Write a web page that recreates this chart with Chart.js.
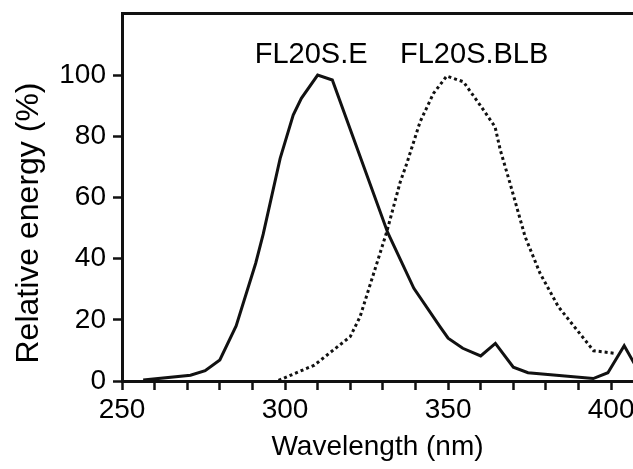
<!DOCTYPE html>
<html>
<head>
<meta charset="utf-8">
<script src="https://cdn.jsdelivr.net/npm/chart.js@4.4.0/dist/chart.umd.min.js"></script>
<style>
  html, body { margin: 0; padding: 0; background: #fff; overflow: hidden; }
</style>
</head>
<body>
<canvas id="spectrumChart" width="633" height="469"></canvas>
<script>
// Spectra: wavelength (nm) / relative energy (%)
const eWavelength = [256.5, 271, 275.5, 280, 285, 291, 293.3, 298.5, 302.5, 305, 310, 314.5, 331.5, 339.5, 347.5, 350, 354.5, 360, 364.5, 370, 374.5, 394.5, 399, 404, 409];
const eEnergy     = [0.3, 1.9, 3.4, 6.9, 18, 38.5, 48, 72.8, 86.9, 92.4, 100, 98.4, 48.5, 30.3, 17.8, 14, 10.7, 8.2, 12.3, 4.5, 2.7, 0.8, 2.7, 11.5, 2.2];

const blbWavelength = [298, 309, 320, 323, 331.2, 335.3, 337.3, 341.4, 345.5, 349.6, 354.7, 359.8, 364.4, 366, 369, 373.6, 378.2, 383.8, 389.5, 394.6, 401.5];
const blbEnergy     = [0.2, 5.2, 14.5, 21, 48.8, 65, 71, 84.7, 94, 99.7, 97.8, 90.2, 83.1, 75.5, 64.6, 47.2, 35.2, 24.3, 16.7, 9.9, 9];

// axes
const xTicks = [250, 260, 270, 280, 290, 300, 310, 320, 330, 340, 350, 360, 370, 380, 390, 400];
const xLabels = [250, 300, 350, 400];
const yTicks = [0, 20, 40, 60, 80, 100];

// curve names and where they sit (wavelength, energy)
const seriesNames = ['FL20S.E', 'FL20S.BLB'];
const nameAt = [308, 358];
const nameLevel = 104;

const FONT = '"Liberation Sans", Arial, Helvetica, sans-serif';
const INK = '#111';

function toPoints(xs, ys) {
  return xs.map((v, i) => ({ x: v, y: ys[i] }));
}

// names over the peaks + rotated y title
const textPlugin = {
  id: 'textPlugin',
  afterDraw(chart) {
    const { ctx, scales, chartArea } = chart;
    ctx.save();
    ctx.fillStyle = '#000';
    ctx.font = '29px ' + FONT;
    ctx.textAlign = 'center';
    ctx.textBaseline = 'alphabetic';
    seriesNames.forEach((name, i) => {
      ctx.fillText(name, scales.x.getPixelForValue(nameAt[i]), scales.y.getPixelForValue(nameLevel));
    });
    ctx.translate(29, (chartArea.top + chartArea.bottom) / 2 + 26);
    ctx.rotate(-Math.PI / 2);
    ctx.font = '32px ' + FONT;
    ctx.textBaseline = 'middle';
    ctx.fillText('Relative energy (%)', 0, 0);
    ctx.restore();
  }
};

new Chart(document.getElementById('spectrumChart'), {
  type: 'line',
  data: {
    datasets: [
      {
        label: seriesNames[0],
        data: toPoints(eWavelength, eEnergy),
        borderColor: INK,
        borderWidth: 3,
        pointRadius: 0,
        tension: 0
      },
      {
        label: seriesNames[1],
        data: toPoints(blbWavelength, blbEnergy),
        borderColor: INK,
        borderWidth: 3,
        borderDash: [3, 3],
        pointRadius: 0,
        tension: 0
      }
    ]
  },
  options: {
    responsive: false,
    animation: false,
    layout: { padding: { top: 13, left: 0, right: 0, bottom: 0 } },
    plugins: { legend: { display: false }, tooltip: { enabled: false } },
    scales: {
      x: {
        type: 'linear',
        position: 'bottom',
        min: 250,
        max: 406.7,
        afterBuildTicks: s => { s.ticks = xTicks.map(v => ({ value: v })); },
        afterFit: s => { s.paddingLeft = 0; s.paddingRight = 0; s.height = 88; },
        ticks: {
          autoSkip: false,
          maxRotation: 0,
          padding: 3,
          color: '#000',
          font: { family: FONT, size: 28 },
          callback: v => xLabels.includes(v) ? String(v) : ''
        },
        grid: { drawOnChartArea: false, tickLength: 9, tickWidth: 2.5, tickColor: INK },
        border: { display: true, color: INK, width: 3 },
        title: {
          display: true,
          text: 'Wavelength (nm)',
          color: '#000',
          font: { family: FONT, size: 28 },
          padding: { top: 0, bottom: 5 }
        }
      },
      xTop: {
        type: 'linear',
        position: 'top',
        min: 250,
        max: 406.7,
        afterFit: s => { s.paddingLeft = 0; s.paddingRight = 0; s.height = 0; },
        ticks: { display: false },
        grid: { drawOnChartArea: false, drawTicks: false },
        border: { display: true, color: INK, width: 3 }
      },
      y: {
        min: 0,
        max: 120.3,
        afterBuildTicks: s => { s.ticks = yTicks.map(v => ({ value: v })); },
        afterFit: s => { s.paddingTop = 0; s.paddingBottom = 0; s.width = 122; },
        ticks: {
          padding: 7,
          color: '#000',
          font: { family: FONT, size: 28 }
        },
        grid: { drawOnChartArea: false, tickLength: 9, tickWidth: 2.5, tickColor: INK },
        border: { display: true, color: INK, width: 3 }
      }
    }
  },
  plugins: [textPlugin]
});
</script>
</body>
</html>
